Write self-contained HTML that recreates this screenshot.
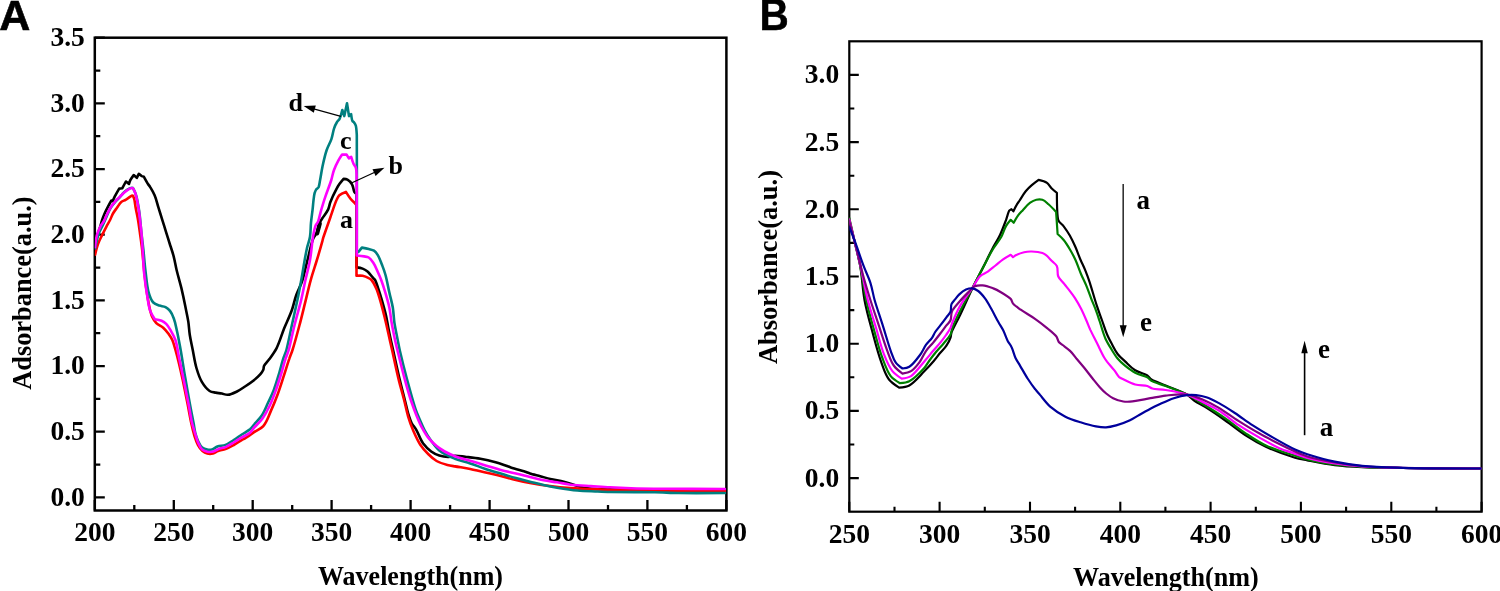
<!DOCTYPE html><html><head><meta charset="utf-8"><style>html,body{margin:0;padding:0;background:#fff;overflow:hidden}svg{display:block;will-change:transform}</style></head><body>
<svg width="1500" height="591" viewBox="0 0 1500 591">
<rect width="1500" height="591" fill="#fff"/>
<defs><clipPath id="clipA"><rect x="94.8" y="37.7" width="631.6" height="472.8"/></clipPath><clipPath id="clipB"><rect x="849.3" y="41.3" width="632.3" height="470.4"/></clipPath></defs>
<path d="M94.8 497.4h10 M94.8 431.7h10 M94.8 366.1h10 M94.8 300.4h10 M94.8 234.7h10 M94.8 169.1h10 M94.8 103.4h10 M94.8 37.7h10 M94.8 464.6h5.5 M94.8 398.9h5.5 M94.8 333.2h5.5 M94.8 267.6h5.5 M94.8 201.9h5.5 M94.8 136.2h5.5 M94.8 70.6h5.5 M94.8 510.5v-10.5 M173.8 510.5v-10.5 M252.7 510.5v-10.5 M331.6 510.5v-10.5 M410.6 510.5v-10.5 M489.6 510.5v-10.5 M568.5 510.5v-10.5 M647.4 510.5v-10.5 M726.4 510.5v-10.5 M134.3 510.5v-5.5 M213.2 510.5v-5.5 M292.2 510.5v-5.5 M371.1 510.5v-5.5 M450.1 510.5v-5.5 M529 510.5v-5.5 M608 510.5v-5.5 M686.9 510.5v-5.5" stroke="#000" stroke-width="2.3" fill="none"/>
<rect x="94.8" y="37.7" width="631.6" height="472.8" stroke="#000" stroke-width="2.5" fill="none"/>
<text x="84.8" y="505.7" text-anchor="end" font-size="27.5" font-family="Liberation Serif, serif" font-weight="bold">0.0</text>
<text x="84.8" y="440" text-anchor="end" font-size="27.5" font-family="Liberation Serif, serif" font-weight="bold">0.5</text>
<text x="84.8" y="374.4" text-anchor="end" font-size="27.5" font-family="Liberation Serif, serif" font-weight="bold">1.0</text>
<text x="84.8" y="308.7" text-anchor="end" font-size="27.5" font-family="Liberation Serif, serif" font-weight="bold">1.5</text>
<text x="84.8" y="243" text-anchor="end" font-size="27.5" font-family="Liberation Serif, serif" font-weight="bold">2.0</text>
<text x="84.8" y="177.4" text-anchor="end" font-size="27.5" font-family="Liberation Serif, serif" font-weight="bold">2.5</text>
<text x="84.8" y="111.7" text-anchor="end" font-size="27.5" font-family="Liberation Serif, serif" font-weight="bold">3.0</text>
<text x="84.8" y="46" text-anchor="end" font-size="27.5" font-family="Liberation Serif, serif" font-weight="bold">3.5</text>
<text x="94.8" y="541.2" text-anchor="middle" font-size="27.5" font-family="Liberation Serif, serif" font-weight="bold">200</text>
<text x="173.8" y="541.2" text-anchor="middle" font-size="27.5" font-family="Liberation Serif, serif" font-weight="bold">250</text>
<text x="252.7" y="541.2" text-anchor="middle" font-size="27.5" font-family="Liberation Serif, serif" font-weight="bold">300</text>
<text x="331.6" y="541.2" text-anchor="middle" font-size="27.5" font-family="Liberation Serif, serif" font-weight="bold">350</text>
<text x="410.6" y="541.2" text-anchor="middle" font-size="27.5" font-family="Liberation Serif, serif" font-weight="bold">400</text>
<text x="489.6" y="541.2" text-anchor="middle" font-size="27.5" font-family="Liberation Serif, serif" font-weight="bold">450</text>
<text x="568.5" y="541.2" text-anchor="middle" font-size="27.5" font-family="Liberation Serif, serif" font-weight="bold">500</text>
<text x="647.4" y="541.2" text-anchor="middle" font-size="27.5" font-family="Liberation Serif, serif" font-weight="bold">550</text>
<text x="726.4" y="541.2" text-anchor="middle" font-size="27.5" font-family="Liberation Serif, serif" font-weight="bold">600</text>
<text x="318" y="584.5" font-size="28" textLength="185" lengthAdjust="spacingAndGlyphs" font-family="Liberation Serif, serif" font-weight="bold">Wavelength(nm)</text>
<text transform="translate(30.6 389.8) rotate(-90)" x="0" y="0" font-size="28" textLength="193.4" lengthAdjust="spacingAndGlyphs" font-family="Liberation Serif, serif" font-weight="bold">Adsorbance(a.u.)</text>
<text x="-0.8" y="30.2" font-size="43" stroke="#000" stroke-width="0.6" font-family="Liberation Sans, sans-serif" font-weight="bold">A</text>
<path d="M849.3 478.1h9.5 M849.3 410.9h9.5 M849.3 343.7h9.5 M849.3 276.5h9.5 M849.3 209.3h9.5 M849.3 142.1h9.5 M849.3 74.9h9.5 M849.3 444.5h5 M849.3 377.3h5 M849.3 310.1h5 M849.3 242.9h5 M849.3 175.7h5 M849.3 108.5h5 M849.3 511.7v-10 M939.6 511.7v-10 M1030 511.7v-10 M1120.3 511.7v-10 M1210.6 511.7v-10 M1300.9 511.7v-10 M1391.3 511.7v-10 M1481.6 511.7v-10 M894.5 511.7v-5 M984.8 511.7v-5 M1075.1 511.7v-5 M1165.4 511.7v-5 M1255.8 511.7v-5 M1346.1 511.7v-5 M1436.4 511.7v-5" stroke="#000" stroke-width="2.1" fill="none"/>
<rect x="849.3" y="41.3" width="632.3" height="470.4" stroke="#000" stroke-width="2.2" fill="none"/>
<text x="839.2" y="486.5" text-anchor="end" font-size="27.5" font-family="Liberation Serif, serif" font-weight="bold">0.0</text>
<text x="839.2" y="419.3" text-anchor="end" font-size="27.5" font-family="Liberation Serif, serif" font-weight="bold">0.5</text>
<text x="839.2" y="352.1" text-anchor="end" font-size="27.5" font-family="Liberation Serif, serif" font-weight="bold">1.0</text>
<text x="839.2" y="284.9" text-anchor="end" font-size="27.5" font-family="Liberation Serif, serif" font-weight="bold">1.5</text>
<text x="839.2" y="217.7" text-anchor="end" font-size="27.5" font-family="Liberation Serif, serif" font-weight="bold">2.0</text>
<text x="839.2" y="150.5" text-anchor="end" font-size="27.5" font-family="Liberation Serif, serif" font-weight="bold">2.5</text>
<text x="839.2" y="83.3" text-anchor="end" font-size="27.5" font-family="Liberation Serif, serif" font-weight="bold">3.0</text>
<text x="849.3" y="543" text-anchor="middle" font-size="27.5" font-family="Liberation Serif, serif" font-weight="bold">250</text>
<text x="939.6" y="543" text-anchor="middle" font-size="27.5" font-family="Liberation Serif, serif" font-weight="bold">300</text>
<text x="1030" y="543" text-anchor="middle" font-size="27.5" font-family="Liberation Serif, serif" font-weight="bold">350</text>
<text x="1120.3" y="543" text-anchor="middle" font-size="27.5" font-family="Liberation Serif, serif" font-weight="bold">400</text>
<text x="1210.6" y="543" text-anchor="middle" font-size="27.5" font-family="Liberation Serif, serif" font-weight="bold">450</text>
<text x="1300.9" y="543" text-anchor="middle" font-size="27.5" font-family="Liberation Serif, serif" font-weight="bold">500</text>
<text x="1391.3" y="543" text-anchor="middle" font-size="27.5" font-family="Liberation Serif, serif" font-weight="bold">550</text>
<text x="1481.6" y="543" text-anchor="middle" font-size="27.5" font-family="Liberation Serif, serif" font-weight="bold">600</text>
<text x="1073" y="585.7" font-size="28" textLength="185.6" lengthAdjust="spacingAndGlyphs" font-family="Liberation Serif, serif" font-weight="bold">Wavelength(nm)</text>
<text transform="translate(777 364) rotate(-90)" x="0" y="0" font-size="28" textLength="194" lengthAdjust="spacingAndGlyphs" font-family="Liberation Serif, serif" font-weight="bold">Absorbance(a.u.)</text>
<text transform="translate(759.6 29.6) scale(0.9 1)" font-size="45" stroke="#000" stroke-width="0.5" font-family="Liberation Sans, sans-serif" font-weight="bold">B</text>
<g clip-path="url(#clipA)">
<path fill="none" stroke="#000000" stroke-width="2.6" stroke-linejoin="round" stroke-linecap="round" d="M95.2 245.0C95.2 245.0 96.2 239.3 97.0 236.5C97.7 234.0 98.7 231.5 99.5 229.0C100.4 226.2 101.1 223.3 102.0 220.5C102.7 218.3 103.5 216.1 104.4 214.0C105.5 211.5 106.7 209.0 108.0 206.6C109.1 204.5 111.4 200.5 111.4 200.5C111.4 200.5 112.7 201.2 112.7 201.2C112.7 201.2 114.0 198.0 114.8 196.4C116.0 194.1 119.2 188.6 119.2 188.6C119.2 188.6 122.2 188.3 122.2 188.3C122.2 188.3 125.9 181.5 125.9 181.5C125.9 181.5 129.0 183.9 129.0 183.9C129.0 183.9 129.7 181.4 130.3 180.2C131.2 178.4 133.7 175.1 133.7 175.1C133.7 175.1 136.8 177.8 136.8 177.8C136.8 177.8 138.8 173.8 138.8 173.8C138.8 173.8 140.8 175.6 141.8 176.1C142.5 176.4 143.9 176.8 143.9 176.8C143.9 176.8 147.1 182.6 148.0 184.0C148.6 185.0 149.4 185.8 150.0 186.8C150.9 188.3 153.4 192.3 154.6 195.2C156.3 199.1 157.1 203.3 158.4 207.4C159.7 211.5 160.9 215.5 162.2 219.6C163.5 223.7 164.7 227.7 166.0 231.8C167.3 235.9 168.5 239.9 169.8 244.0C171.1 248.0 172.5 252.0 173.6 256.1C174.8 260.7 175.5 265.4 176.6 270.0C178.1 276.1 179.9 282.0 181.4 288.1C182.8 294.1 184.1 300.2 185.3 306.3C186.3 311.4 187.5 316.5 188.3 321.6C189.0 326.0 189.1 330.6 189.8 335.0C190.6 340.1 191.8 345.1 192.8 350.2C194.0 356.3 194.8 362.5 196.6 368.5C198.0 373.2 199.5 378.0 202.0 382.2C204.0 385.5 206.9 389.3 209.6 391.0C211.4 392.1 213.6 392.2 215.7 392.6C217.7 393.0 219.8 393.2 221.8 393.6C223.8 394.0 225.8 395.0 227.9 394.8C231.0 394.6 234.1 392.9 237.0 391.5C239.8 390.1 242.4 388.2 245.0 386.5C247.6 384.8 250.2 383.1 252.6 381.2C255.3 379.1 258.4 376.5 260.2 374.4C261.4 373.0 262.6 371.5 263.3 369.8C263.8 368.6 263.5 367.2 264.0 366.0C264.8 364.2 267.7 361.5 269.4 359.1C271.9 355.6 274.5 352.1 276.5 348.3C279.4 342.6 281.5 335.1 284.1 328.5C286.6 322.4 289.6 316.5 291.8 310.3C293.6 305.3 294.5 300.0 296.3 295.0C297.9 290.4 300.4 286.1 302.0 281.5C303.4 277.4 304.2 273.2 305.3 269.0C306.4 264.7 307.4 260.3 308.5 256.0C309.3 252.7 310.0 249.3 310.9 246.0C311.6 243.5 312.2 240.9 313.3 238.5C314.2 236.6 315.7 235.0 316.5 233.0C317.7 230.1 317.9 226.3 319.1 223.6C319.9 221.8 321.1 220.2 322.2 218.5C323.8 216.0 326.7 212.7 328.2 209.4C329.2 207.2 329.4 204.6 330.3 202.3C331.6 198.8 335.0 191.7 336.4 189.1C337.3 187.4 338.3 185.7 339.4 184.1C340.7 182.3 343.6 178.9 343.6 178.9C343.6 178.9 346.3 179.1 347.4 179.7C349.1 180.6 350.9 182.4 352.0 184.3C353.4 186.6 353.5 190.6 354.3 191.9C354.8 192.8 356.5 194.0 356.5 194.0C356.5 194.0 356.6 267.4 356.6 267.4C356.6 267.4 360.7 267.9 362.6 268.6C364.3 269.2 365.8 270.1 367.2 271.2C369.3 272.9 372.4 277.1 373.3 278.1C373.9 278.7 374.6 279.3 375.1 280.0C375.8 281.1 377.2 285.4 378.1 288.1C379.5 292.2 380.8 296.3 382.0 300.5C383.4 305.5 384.9 310.5 386.0 315.5C387.0 319.9 387.6 324.3 388.5 328.7C389.2 332.5 390.0 336.2 390.8 340.0C391.6 343.5 392.4 347.0 393.2 350.5C394.4 355.8 397.7 371.3 400.0 380.9C401.5 387.3 403.2 393.6 404.8 400.0C406.1 405.0 407.3 410.9 408.6 415.0C409.5 417.7 410.3 420.5 411.6 423.0C412.9 425.4 414.9 427.4 416.3 429.8C418.4 433.4 420.1 439.2 423.0 443.3C425.3 446.4 428.1 449.2 431.2 451.5C433.6 453.3 436.4 454.6 439.3 455.5C442.4 456.5 445.6 457.0 448.8 456.9C450.9 456.9 452.9 455.8 455.0 455.7C458.2 455.6 461.8 456.4 465.2 456.8C470.3 457.4 475.4 457.9 480.4 458.8C485.5 459.7 490.6 460.9 495.6 462.3C500.7 463.8 505.7 465.8 510.8 467.4C515.9 469.0 524.1 471.3 526.1 472.0C527.4 472.5 528.7 473.1 530.0 473.5C532.0 474.1 536.8 475.3 540.2 476.2C543.6 477.1 546.9 478.2 550.3 479.0C554.8 480.1 559.3 480.6 563.8 481.7C570.5 483.4 577.2 486.5 584.1 487.7C592.6 489.2 601.4 489.0 610.0 489.4C623.0 490.0 643.3 490.3 660.0 490.5C681.7 490.8 725.0 490.8 725.0 490.8"/>
<line x1="320" y1="223.5" x2="317.3" y2="233.6" stroke="#000" stroke-width="3.8" stroke-linecap="round"/>
<path fill="none" stroke="#ff0000" stroke-width="2.6" stroke-linejoin="round" stroke-linecap="round" d="M95.1 254.6C95.1 254.6 96.8 247.2 98.1 243.7C99.2 240.7 100.8 237.8 102.2 234.9C103.5 232.2 104.9 229.5 106.3 226.8C107.6 224.3 109.1 222.0 110.3 219.5C111.3 217.5 111.9 215.4 113.0 213.5C114.1 211.6 115.5 209.8 116.8 208.0C118.3 205.9 119.7 203.2 121.5 201.8C122.7 200.8 124.3 200.6 125.6 199.8C127.6 198.7 131.1 195.9 131.7 195.7C132.1 195.6 133.0 195.7 133.0 195.7C133.0 195.7 134.1 198.4 134.4 199.8C134.9 201.9 135.2 205.3 135.7 208.0C136.3 211.3 137.1 214.7 137.7 218.0C138.6 223.0 139.3 228.3 140.0 233.5C140.8 239.0 141.6 244.5 142.2 250.0C142.6 254.0 142.9 258.0 143.3 262.0C143.7 265.7 144.0 269.3 144.4 273.0C145.0 278.5 146.2 288.5 147.4 296.0C148.2 301.0 149.6 308.2 150.3 311.0C150.8 312.9 151.2 314.8 152.0 316.5C153.1 318.9 154.5 321.2 156.3 323.1C158.2 325.1 161.1 325.9 163.2 327.7C165.2 329.5 166.9 331.6 168.5 333.8C169.9 335.8 171.3 337.8 172.3 340.0C173.8 343.3 176.0 351.8 177.6 357.8C179.6 365.4 181.2 373.0 182.9 380.7C184.5 388.3 186.0 395.9 187.5 403.5C188.8 410.1 189.9 416.9 191.3 423.3C192.2 427.6 193.2 431.8 194.5 436.0C195.5 439.1 196.4 442.2 198.0 445.0C199.2 447.2 200.6 449.4 202.5 451.0C203.9 452.2 205.5 453.1 207.3 453.5C209.1 454.0 211.2 453.9 213.0 453.5C214.8 453.1 216.3 451.6 218.0 451.0C220.4 450.1 223.1 450.0 225.5 449.1C228.4 448.0 231.0 446.5 233.7 445.0C236.5 443.5 240.2 440.9 241.8 440.0C242.8 439.4 244.0 438.9 245.0 438.3C246.6 437.4 251.1 434.2 254.1 432.2C257.2 430.2 260.9 428.9 263.3 426.1C267.0 422.0 268.6 416.1 270.9 410.9C273.4 405.4 275.6 399.8 277.7 394.2C279.9 388.2 281.8 382.0 283.8 375.9C285.6 370.3 287.6 363.7 289.2 359.1C290.2 356.0 291.5 353.1 292.5 350.0C294.0 345.4 297.2 333.7 299.4 325.5C301.6 317.4 303.5 309.2 305.5 301.1C307.3 294.0 308.8 286.8 310.8 279.8C312.7 273.1 314.9 266.6 316.9 260.0C318.7 254.1 321.5 244.4 322.1 242.2C322.5 240.7 322.8 239.2 323.2 237.8C323.9 235.6 327.9 224.3 330.3 217.5C332.3 211.8 335.1 203.0 336.4 200.3C337.2 198.5 338.0 196.6 339.4 195.2C341.2 193.5 345.9 191.9 345.9 191.9C345.9 191.9 348.8 196.6 350.5 198.7C351.9 200.4 354.2 202.5 355.0 203.3C355.5 203.9 356.5 205.0 356.5 205.0C356.5 205.0 356.5 275.8 356.5 275.8C356.5 275.8 360.6 275.4 362.6 275.8C364.7 276.2 367.2 277.3 368.7 278.1C369.7 278.6 370.7 279.2 371.5 280.0C372.6 281.2 374.8 285.3 376.1 288.1C377.9 292.0 379.0 296.2 380.2 300.3C381.7 305.3 382.9 310.4 384.2 315.5C385.3 319.9 386.3 324.3 387.3 328.7C388.2 332.5 389.0 336.2 389.8 340.0C390.6 343.5 391.4 347.0 392.2 350.5C393.4 355.8 396.6 371.3 399.0 380.9C400.6 387.3 402.5 393.6 404.1 400.0C405.5 405.4 406.5 410.9 408.1 416.3C409.6 421.4 411.4 426.3 413.5 431.2C415.5 435.8 417.5 440.5 420.3 444.7C422.6 448.2 425.4 451.3 428.4 454.2C430.9 456.7 433.5 459.2 436.6 461.0C439.9 462.9 443.7 464.0 447.4 465.0C449.9 465.7 452.5 466.0 455.0 466.4C458.8 467.1 465.2 467.9 470.2 468.9C475.3 469.9 480.4 471.3 485.5 472.5C490.6 473.7 495.7 474.7 500.7 476.0C505.8 477.3 510.8 478.9 515.9 480.1C520.6 481.2 525.3 482.2 530.0 483.0C536.6 484.2 543.3 485.2 550.0 486.0C556.8 486.9 563.7 487.6 570.6 488.1C579.6 488.8 591.6 489.2 597.7 489.4C601.8 489.6 605.9 489.7 610.0 489.8C616.2 489.9 643.3 490.4 660.0 490.6C681.7 490.8 725.0 491.0 725.0 491.0"/>
<path fill="none" stroke="#008080" stroke-width="2.6" stroke-linejoin="round" stroke-linecap="round" d="M95.1 248.5C95.1 248.5 97.2 237.9 98.8 233.5C99.9 230.5 101.6 227.9 102.9 225.0C104.0 222.7 104.9 220.3 106.0 218.0C107.5 214.6 108.9 210.7 110.7 207.8C111.9 205.8 113.3 204.0 114.8 202.3C116.2 200.6 118.0 199.2 119.5 197.6C120.7 196.3 121.7 194.8 122.9 193.5C124.2 192.2 125.4 190.8 127.0 189.8C128.4 188.9 131.0 187.9 131.7 187.8C132.1 187.7 133.0 188.0 133.0 188.0C133.0 188.0 134.5 190.9 135.1 192.4C135.7 193.9 136.2 195.5 136.6 197.1C137.2 199.5 138.1 204.3 138.7 208.0C139.2 211.0 139.6 214.0 139.9 217.0C140.4 221.5 140.9 228.0 141.5 233.5C142.1 239.0 142.8 244.5 143.4 250.0C144.2 257.6 144.7 265.2 145.7 272.8C146.5 279.4 147.1 287.4 148.7 292.6C149.7 296.1 150.9 300.0 153.3 302.5C154.9 304.1 157.3 304.8 159.4 305.6C161.4 306.3 163.6 306.1 165.5 307.1C167.2 308.0 168.8 309.4 170.0 310.9C171.8 313.1 172.8 315.8 173.8 318.5C175.3 322.4 176.0 326.6 176.9 330.7C178.3 336.8 179.5 343.7 180.7 350.2C182.3 359.3 183.6 368.5 185.2 377.6C186.7 386.2 188.2 394.9 189.8 403.5C191.0 410.1 192.7 418.5 193.6 423.3C194.2 426.5 194.5 429.8 195.3 433.0C196.0 435.7 196.9 438.5 198.1 441.0C199.2 443.3 200.2 445.9 202.2 447.5C203.6 448.7 205.5 449.3 207.3 449.6C208.8 449.9 210.5 449.9 212.0 449.5C214.0 449.0 215.5 447.2 217.4 446.5C220.0 445.6 222.9 445.9 225.5 444.9C228.5 443.8 231.0 441.7 233.7 440.0C236.5 438.2 239.1 436.3 241.8 434.5C244.5 432.7 247.6 431.3 250.0 429.3C251.6 427.9 252.7 426.2 254.1 424.6C256.1 422.2 259.6 418.8 261.8 415.5C264.3 411.7 265.9 407.4 267.8 403.3C269.9 398.8 272.1 394.3 273.9 389.6C276.0 384.1 277.6 378.4 279.3 372.8C280.7 368.3 281.7 363.6 283.1 359.1C284.1 356.0 285.5 353.1 286.4 350.0C287.7 345.4 290.0 333.7 291.8 325.5C293.8 316.4 295.9 307.3 297.8 298.1C299.2 291.5 300.4 284.9 301.6 278.3C302.7 272.2 303.6 266.0 304.7 260.0C305.4 256.0 306.1 252.0 307.0 248.0C307.9 244.2 309.4 240.6 310.0 236.8C310.8 232.1 310.5 227.3 311.0 222.6C311.4 218.5 312.0 214.5 312.5 210.4C312.9 207.0 313.1 203.7 313.5 200.3C313.8 197.9 314.1 195.1 314.6 193.2C315.0 191.9 315.4 190.7 316.1 189.6C316.8 188.6 318.0 188.1 318.6 187.1C319.4 185.5 319.6 182.4 320.1 180.0C320.8 176.4 321.5 171.3 322.4 167.0C323.6 161.3 324.8 155.5 326.7 150.0C328.0 146.3 330.1 142.8 331.4 139.1C332.6 135.6 333.0 131.5 334.1 128.3C334.8 126.2 335.8 124.0 336.9 122.2C337.7 121.0 338.9 120.1 339.6 118.8C340.6 116.9 342.3 110.0 342.3 110.0C342.3 110.0 344.3 116.1 344.3 116.1C344.3 116.1 347.0 103.3 347.0 103.3C347.0 103.3 349.0 116.1 349.0 116.1C349.0 116.1 351.1 114.1 351.1 114.1C351.1 114.1 351.9 120.1 352.4 120.9C352.7 121.5 353.4 121.7 353.8 122.2C354.4 122.9 355.4 124.4 355.8 125.6C356.4 127.5 356.6 131.9 356.8 135.0C357.1 139.7 356.8 252.5 356.8 252.5C356.8 252.5 357.6 252.4 358.0 252.2C358.5 251.9 361.9 247.6 361.9 247.6C361.9 247.6 366.5 248.5 368.7 249.1C370.5 249.6 372.5 249.7 374.0 250.7C375.6 251.8 376.8 253.5 377.8 255.2C379.3 257.7 381.0 262.3 382.4 265.9C383.6 268.9 384.6 271.9 385.5 275.0C386.8 279.6 388.0 286.5 389.3 292.2C390.4 297.3 391.9 302.3 392.8 307.4C393.6 312.4 393.7 317.6 394.4 322.6C395.3 328.4 396.7 334.7 397.7 340.0C398.4 343.5 399.0 347.0 399.8 350.5C401.0 355.7 404.2 368.8 406.6 377.9C409.5 388.7 414.2 405.4 415.8 410.0C416.9 413.1 418.2 416.0 419.5 419.0C421.1 422.7 422.6 426.4 424.5 430.0C426.4 433.6 428.6 437.2 431.0 440.5C433.5 444.0 435.9 447.8 439.3 450.5C443.9 454.2 449.5 456.5 455.0 458.8C459.9 460.8 465.2 461.7 470.2 463.4C475.3 465.1 480.4 467.2 485.5 468.9C490.5 470.6 495.6 472.0 500.7 473.5C505.8 475.0 510.8 476.7 515.9 478.1C520.6 479.4 525.3 480.5 530.0 481.7C534.5 482.8 539.0 484.0 543.5 485.0C548.0 486.0 552.5 486.9 557.1 487.7C563.8 488.8 570.6 489.9 577.4 490.5C584.1 491.1 591.6 491.2 597.7 491.5C601.8 491.7 605.9 491.9 610.0 492.0C616.2 492.1 642.9 492.1 654.8 492.3C662.7 492.4 670.6 492.9 678.5 493.0C690.4 493.2 725.0 493.0 725.0 493.0"/>
<path fill="none" stroke="#ff00ff" stroke-width="2.6" stroke-linejoin="round" stroke-linecap="round" d="M95.1 247.1C95.1 247.1 95.8 239.3 96.8 235.6C97.6 232.6 98.8 229.6 100.2 226.8C101.1 224.9 102.6 223.3 103.6 221.5C104.5 219.9 105.2 218.2 106.0 216.5C107.2 214.0 108.9 210.2 110.7 207.3C111.9 205.4 113.3 203.5 114.8 201.8C116.2 200.1 117.9 198.7 119.5 197.1C120.6 196.0 121.7 194.8 122.9 193.7C124.2 192.5 125.5 191.3 127.0 190.3C128.5 189.4 131.0 188.1 131.7 188.0C132.1 187.9 133.0 188.3 133.0 188.3C133.0 188.3 134.5 191.0 135.1 192.4C135.7 193.9 136.0 195.5 136.4 197.1C137.0 199.5 137.9 204.3 138.5 208.0C139.0 211.0 139.3 214.0 139.7 217.0C140.2 221.5 141.0 228.0 141.5 233.5C142.1 240.7 142.5 247.8 143.0 255.0C143.4 260.9 143.5 266.9 144.1 272.8C144.9 280.5 145.9 288.1 147.2 295.7C148.0 300.8 148.6 306.4 150.2 310.9C151.3 313.9 154.8 319.3 154.8 319.3C154.8 319.3 159.5 319.9 161.6 320.8C163.3 321.5 164.9 322.6 166.2 323.9C168.1 325.8 169.4 328.3 170.8 330.7C172.5 333.7 174.3 336.7 175.4 340.0C177.1 344.9 177.9 351.9 179.1 357.8C180.9 366.4 182.7 375.1 184.5 383.7C186.0 391.3 187.5 399.0 189.0 406.6C190.1 412.2 190.9 418.2 192.1 423.3C192.9 426.7 194.1 430.0 195.1 433.4C196.1 436.4 196.8 439.6 198.1 442.5C199.2 445.0 200.2 447.8 202.2 449.6C203.6 450.8 205.5 451.5 207.3 451.8C209.3 452.2 211.4 452.1 213.4 451.6C215.2 451.1 216.7 449.8 218.4 449.1C220.7 448.2 223.2 448.0 225.5 447.1C228.4 445.9 231.0 444.1 233.7 442.5C236.4 440.9 239.1 439.0 241.8 437.4C244.5 435.8 247.6 434.8 250.0 432.8C251.7 431.4 252.7 429.4 254.1 427.7C256.2 425.2 260.1 421.9 262.5 418.5C265.2 414.7 267.4 410.5 269.4 406.3C271.8 401.4 273.6 396.2 275.5 391.1C277.7 385.1 279.6 378.9 281.5 372.8C282.9 368.3 283.9 363.6 285.4 359.1C286.4 356.0 287.8 353.1 288.7 350.0C290.1 345.4 292.6 332.6 294.8 324.0C296.7 316.3 299.0 308.8 300.9 301.1C302.6 294.0 303.9 286.9 305.5 279.8C307.0 273.2 308.8 266.7 310.0 260.0C311.4 252.3 312.0 242.5 313.0 236.8C313.7 233.0 314.7 227.8 315.6 225.6C316.2 224.1 317.5 223.0 318.1 221.6C319.0 219.4 320.0 214.1 321.1 210.4C322.4 206.0 323.7 201.6 325.2 197.2C327.1 191.4 329.8 184.9 331.3 180.0C332.3 176.7 332.8 173.2 334.0 170.0C335.2 166.8 336.7 163.7 338.3 160.7C339.4 158.6 342.1 154.6 342.1 154.6C342.1 154.6 346.6 154.6 346.6 154.6C346.6 154.6 348.9 158.4 348.9 158.4C348.9 158.4 351.2 156.9 351.2 156.9C351.2 156.9 352.6 161.7 353.5 163.7C354.1 165.0 355.3 166.1 355.8 167.5C356.5 169.6 356.5 172.5 356.6 175.0C356.8 178.8 356.8 255.5 356.8 255.5C356.8 255.5 361.8 256.0 364.1 256.4C365.7 256.7 367.4 256.7 368.7 257.5C370.7 258.7 372.0 260.8 373.3 262.8C375.2 265.6 376.4 268.9 377.8 272.0C379.0 274.6 380.2 277.3 381.2 280.0C382.7 284.0 384.0 288.1 385.2 292.2C386.7 297.2 388.2 302.3 389.3 307.4C390.4 312.4 390.7 317.6 391.6 322.6C392.6 328.4 393.9 334.7 395.0 340.0C395.8 343.5 396.6 347.0 397.5 350.5C398.8 355.7 401.9 368.8 404.4 377.9C406.4 385.3 408.4 392.7 410.8 400.0C412.5 405.0 414.3 410.0 416.3 414.9C418.0 419.0 419.6 423.2 421.7 427.1C423.7 430.8 425.8 434.6 428.4 437.9C430.8 440.9 433.6 443.6 436.6 446.1C439.1 448.2 441.9 449.9 444.7 451.5C448.0 453.3 451.5 454.9 455.0 456.2C460.0 458.1 465.1 459.3 470.2 460.8C475.3 462.3 480.4 463.9 485.5 465.4C490.6 466.9 495.6 468.6 500.7 470.0C505.7 471.3 510.8 472.3 515.9 473.5C520.6 474.6 525.3 475.7 530.0 476.9C534.5 478.0 538.9 479.4 543.5 480.3C548.0 481.2 552.6 481.6 557.1 482.3C561.6 483.0 566.1 484.1 570.6 484.7C577.3 485.5 584.1 485.7 590.9 486.1C597.3 486.5 603.6 487.0 610.0 487.3C617.0 487.7 624.1 488.0 631.1 488.2C641.7 488.5 654.8 488.6 666.6 488.7C684.4 488.9 725.0 489.0 725.0 489.0"/>
</g>
<g clip-path="url(#clipB)">
<path fill="none" stroke="#000000" stroke-width="2.2" stroke-linejoin="round" stroke-linecap="round" d="M849.3 219.5C849.3 219.5 853.3 235.8 855.2 243.9C856.9 251.2 858.9 258.5 860.2 265.9C862.2 277.0 862.4 288.7 864.5 300.0C866.6 311.4 869.9 322.6 872.9 333.8C875.5 343.5 878.2 353.9 881.4 362.6C883.5 368.4 885.2 374.6 889.0 379.5C891.6 382.9 899.1 387.6 899.1 387.6C899.1 387.6 906.2 387.0 909.3 385.4C913.9 383.0 919.6 376.1 924.5 371.1C927.9 367.7 931.1 364.1 934.2 360.5C936.3 358.0 938.2 355.3 940.3 352.8C942.3 350.4 944.7 348.3 946.4 345.7C948.1 343.2 949.7 340.1 950.5 337.6C951.1 336.0 950.9 334.1 951.5 332.5C952.3 330.0 957.2 321.0 960.0 315.2C964.2 306.5 968.2 297.0 972.6 288.0C976.0 280.9 979.8 274.0 983.3 267.0C986.4 260.9 989.2 254.7 992.4 248.7C994.8 244.1 997.8 239.7 1000.0 235.0C1002.3 230.1 1004.4 224.3 1006.1 219.8C1007.2 216.8 1008.4 211.8 1009.2 210.7C1009.7 210.0 1011.4 209.1 1011.4 209.1C1011.4 209.1 1013.4 211.4 1013.4 211.4C1013.4 211.4 1015.5 206.7 1016.8 204.6C1017.6 203.2 1018.7 201.9 1019.6 200.5C1021.0 198.4 1023.4 194.1 1025.7 191.3C1027.5 189.1 1029.6 187.1 1031.8 185.2C1034.0 183.3 1038.6 179.9 1038.6 179.9C1038.6 179.9 1044.6 181.2 1047.0 182.9C1048.9 184.2 1049.8 186.6 1051.5 188.3C1053.2 190.0 1056.9 192.8 1056.9 192.8C1056.9 192.8 1056.9 216.6 1058.4 220.3C1059.4 222.8 1062.1 224.2 1063.7 226.3C1065.9 229.2 1068.0 232.3 1069.8 235.5C1071.7 238.9 1073.4 242.4 1075.0 246.0C1077.1 250.6 1078.6 255.4 1080.6 260.0C1082.1 263.4 1083.8 266.8 1085.2 270.2C1086.8 274.2 1088.3 278.2 1089.7 282.3C1090.8 285.7 1091.8 289.1 1092.8 292.5C1094.1 296.9 1095.4 301.3 1096.8 305.7C1098.4 310.5 1100.2 315.2 1101.9 320.0C1103.6 324.7 1105.0 329.6 1107.0 334.2C1108.3 337.3 1109.9 340.3 1111.5 343.3C1113.4 346.9 1115.1 350.7 1117.6 354.0C1119.8 356.9 1122.7 359.1 1125.3 361.6C1128.5 364.6 1131.5 367.9 1135.2 370.2C1138.9 372.5 1144.9 373.7 1147.3 375.3C1148.9 376.4 1149.8 378.3 1151.4 379.4C1153.8 381.0 1160.9 383.5 1165.6 385.5C1172.7 388.5 1183.0 392.1 1187.0 394.6C1189.7 396.2 1191.5 398.9 1194.1 400.7C1197.5 403.1 1201.4 404.7 1205.0 406.9C1210.3 410.2 1218.6 415.8 1225.3 420.5C1232.2 425.3 1238.6 430.8 1245.6 435.3C1252.1 439.5 1258.9 443.5 1265.9 446.8C1275.3 451.2 1289.0 455.9 1295.0 457.7C1299.0 458.9 1303.2 459.5 1307.3 460.3C1313.5 461.5 1325.5 464.0 1334.7 465.1C1343.8 466.2 1352.9 466.7 1362.0 467.1C1375.7 467.7 1389.3 467.8 1403.0 468.0C1423.5 468.3 1481.0 468.5 1481.0 468.5"/>
<path fill="none" stroke="#008000" stroke-width="2.2" stroke-linejoin="round" stroke-linecap="round" d="M849.3 218.0C849.3 218.0 853.2 235.3 855.2 243.9C856.9 251.2 858.7 258.5 860.2 265.9C862.4 277.0 863.7 288.7 866.2 300.0C868.6 310.8 871.6 321.5 874.6 332.1C877.0 340.6 879.1 349.2 882.2 357.5C884.6 363.9 887.1 371.5 890.7 376.1C893.1 379.1 900.0 383.2 900.0 383.2C900.0 383.2 906.5 382.6 909.3 381.2C913.5 379.1 921.8 370.7 924.5 367.7C926.3 365.7 927.5 363.2 929.1 361.0C931.4 357.9 933.7 354.8 936.2 351.8C938.5 349.0 941.1 346.5 943.4 343.7C945.9 340.7 948.8 337.8 950.5 334.5C951.6 332.3 951.6 329.7 952.5 327.4C953.8 323.9 957.3 316.5 960.0 311.2C964.0 303.2 968.4 295.5 972.6 287.6C976.2 280.8 979.7 273.8 983.3 267.0C986.5 260.9 989.6 254.6 993.2 248.7C995.8 244.5 999.1 240.8 1001.5 236.5C1003.4 233.1 1004.2 229.2 1006.1 225.9C1007.4 223.7 1010.7 219.8 1010.7 219.8C1010.7 219.8 1013.7 222.8 1013.7 222.8C1013.7 222.8 1016.5 217.6 1018.3 215.2C1019.6 213.5 1021.1 212.0 1022.6 210.4C1024.8 208.1 1027.4 204.7 1030.2 202.7C1032.0 201.4 1034.1 200.2 1036.3 199.7C1038.3 199.2 1040.5 199.1 1042.4 199.7C1044.8 200.5 1046.6 202.6 1048.5 204.3C1051.2 206.7 1056.1 211.9 1056.1 211.9C1056.1 211.9 1057.6 234.0 1057.6 234.0C1057.6 234.0 1061.9 237.8 1063.7 240.0C1066.0 242.8 1067.9 246.0 1069.8 249.2C1071.9 252.7 1073.8 256.3 1075.5 260.0C1077.6 264.6 1079.1 269.5 1081.1 274.2C1082.7 278.0 1084.6 281.6 1086.2 285.4C1088.0 289.7 1089.5 294.2 1091.2 298.6C1092.5 302.0 1094.0 305.3 1095.3 308.7C1096.8 312.6 1098.1 316.6 1099.4 320.5C1101.4 326.4 1103.0 333.1 1105.5 338.7C1107.2 342.4 1109.4 345.9 1111.5 349.4C1113.4 352.5 1115.3 355.7 1117.6 358.5C1119.8 361.1 1122.3 363.5 1125.0 365.7C1128.2 368.3 1131.5 370.9 1135.2 372.8C1139.0 374.8 1145.0 375.9 1147.3 377.3C1148.9 378.2 1149.8 380.0 1151.4 380.9C1153.8 382.3 1160.9 384.2 1165.6 386.0C1172.7 388.7 1180.1 391.2 1187.0 394.6C1193.0 397.6 1198.5 401.3 1204.2 404.8C1211.3 409.2 1218.4 413.7 1225.3 418.4C1232.2 423.2 1238.6 428.6 1245.6 433.3C1252.2 437.7 1258.7 442.2 1265.9 445.5C1275.2 449.9 1288.9 453.6 1295.0 455.6C1299.1 457.0 1303.1 458.5 1307.3 459.5C1313.6 461.1 1325.5 463.3 1334.7 464.5C1343.8 465.7 1352.9 466.3 1362.0 466.8C1375.7 467.6 1389.3 467.8 1403.0 468.0C1423.5 468.4 1481.0 468.5 1481.0 468.5"/>
<path fill="none" stroke="#ff00ff" stroke-width="2.2" stroke-linejoin="round" stroke-linecap="round" d="M849.3 219.4C849.3 219.4 853.2 235.7 855.2 243.9C857.0 251.3 858.8 258.6 860.5 266.0C863.0 277.1 864.9 288.8 867.8 300.0C870.3 309.7 873.4 319.2 876.3 328.8C878.8 337.2 880.7 345.9 883.9 354.1C886.2 360.0 888.6 366.4 892.4 371.1C894.9 374.2 901.7 378.7 901.7 378.7C901.7 378.7 908.3 377.8 911.0 376.1C915.1 373.6 921.0 365.3 925.1 360.5C927.9 357.3 930.5 354.0 933.2 350.8C935.5 348.0 938.0 345.4 940.3 342.6C942.4 340.0 944.5 337.3 946.4 334.5C947.9 332.4 949.5 330.0 950.5 327.9C951.2 326.5 951.4 324.9 952.0 323.4C952.9 321.2 956.9 311.6 960.0 306.1C963.7 299.6 968.8 293.3 972.6 287.6C975.2 283.8 977.0 279.1 980.2 276.1C982.3 274.1 985.4 273.3 987.8 271.6C990.5 269.7 992.9 267.5 995.5 265.5C998.0 263.5 1000.4 261.3 1003.1 259.4C1005.5 257.7 1010.7 254.8 1010.7 254.8C1010.7 254.8 1013.0 257.1 1013.0 257.1C1013.0 257.1 1015.5 255.4 1016.8 254.8C1018.8 253.8 1021.6 252.8 1024.1 252.2C1026.6 251.6 1029.2 251.4 1031.8 251.5C1035.4 251.6 1040.4 252.3 1042.4 253.0C1043.8 253.5 1045.0 254.3 1046.1 255.2C1047.8 256.5 1050.2 259.3 1052.2 261.3C1053.7 262.8 1055.8 264.0 1056.8 265.9C1058.3 268.8 1056.9 273.2 1058.3 276.5C1059.6 279.5 1062.4 281.6 1064.4 284.2C1066.4 286.7 1068.5 289.2 1070.5 291.8C1072.1 293.9 1073.6 295.9 1075.0 298.1C1077.1 301.4 1079.2 305.1 1081.1 308.7C1083.0 312.4 1084.6 316.2 1086.2 320.0C1087.6 323.2 1088.8 326.4 1090.2 329.6C1092.4 334.3 1095.3 339.7 1097.8 344.8C1099.8 348.9 1102.5 354.6 1103.9 357.0C1104.8 358.6 1105.9 360.1 1107.0 361.6C1108.7 363.8 1112.2 367.6 1114.6 370.7C1116.2 372.8 1117.3 375.4 1119.2 377.1C1120.5 378.2 1122.2 378.8 1123.7 379.5C1126.0 380.6 1131.2 383.4 1135.2 384.5C1139.1 385.6 1144.6 385.2 1147.3 386.0C1149.1 386.5 1150.6 388.0 1152.4 388.5C1155.1 389.3 1161.2 389.3 1165.6 390.0C1172.2 391.1 1180.1 392.3 1187.0 394.6C1193.0 396.6 1198.5 399.9 1204.2 402.7C1209.0 405.1 1213.9 407.4 1218.5 410.3C1225.4 414.6 1231.8 420.5 1238.8 425.2C1245.4 429.6 1252.2 433.5 1259.1 437.4C1265.8 441.2 1272.4 445.1 1279.4 448.2C1284.4 450.4 1289.8 451.8 1295.0 453.6C1299.1 455.0 1303.1 456.8 1307.3 458.0C1313.6 459.7 1325.5 462.1 1334.7 463.5C1343.7 464.9 1352.9 465.8 1362.0 466.5C1375.6 467.5 1389.3 467.7 1403.0 468.0C1423.5 468.4 1481.0 468.5 1481.0 468.5"/>
<path fill="none" stroke="#800080" stroke-width="2.2" stroke-linejoin="round" stroke-linecap="round" d="M849.3 221.0C849.3 221.0 853.8 238.3 856.0 247.0C858.4 256.3 860.5 265.7 863.0 275.0C865.3 283.4 867.8 291.7 870.4 300.0C873.1 308.5 876.0 316.9 878.8 325.4C881.6 333.9 884.3 343.0 887.3 350.8C889.3 356.0 890.8 361.5 894.1 366.0C896.3 369.1 902.5 373.6 902.5 373.6C902.5 373.6 908.5 372.6 911.0 371.1C914.7 368.8 917.4 365.0 920.0 361.5C922.4 358.2 923.7 354.2 926.1 350.8C928.2 347.8 930.9 345.4 933.2 342.6C935.6 339.6 938.0 336.6 940.3 333.5C942.4 330.8 944.4 328.0 946.4 325.4C947.7 323.7 949.6 322.3 950.5 320.3C951.4 318.1 951.1 314.7 951.5 313.2C951.7 312.2 952.0 311.1 952.5 310.2C953.3 308.8 957.4 304.0 960.0 301.0C963.0 297.5 967.9 292.7 969.5 291.0C970.5 289.9 971.5 288.5 972.6 287.6C973.3 287.0 974.1 286.4 975.0 286.1C976.3 285.6 980.1 285.2 982.6 285.4C986.3 285.7 989.8 287.1 993.3 288.4C995.9 289.4 998.5 290.8 1000.9 292.2C1004.3 294.2 1009.1 297.1 1010.8 299.0C1011.9 300.3 1012.0 302.3 1013.1 303.6C1014.7 305.6 1018.1 307.8 1020.7 309.7C1024.7 312.5 1030.4 315.6 1035.0 318.8C1039.3 321.8 1043.4 325.0 1047.4 328.3C1050.5 330.9 1054.8 334.2 1056.5 336.6C1057.6 338.2 1057.6 340.4 1058.8 342.0C1059.8 343.3 1061.3 344.0 1062.6 345.0C1064.5 346.5 1068.0 348.8 1070.3 351.1C1072.6 353.3 1074.4 356.0 1076.4 358.5C1078.9 361.5 1081.5 364.5 1084.0 367.5C1086.9 371.1 1089.7 374.9 1092.6 378.5C1095.0 381.5 1097.4 384.6 1100.0 387.5C1101.9 389.6 1104.0 391.7 1106.2 393.5C1108.4 395.3 1110.6 397.0 1113.1 398.2C1116.3 399.8 1120.0 400.9 1123.3 401.5C1125.5 401.9 1127.8 401.8 1130.0 401.7C1132.4 401.6 1134.8 401.1 1137.2 400.7C1140.8 400.1 1146.0 399.0 1150.4 398.2C1155.5 397.3 1160.5 396.2 1165.6 395.6C1172.7 394.8 1179.9 393.6 1187.0 394.6C1193.0 395.4 1198.6 397.9 1204.2 400.2C1209.2 402.3 1213.9 404.9 1218.5 407.6C1225.4 411.7 1231.9 416.8 1238.8 421.1C1245.5 425.3 1252.2 429.4 1259.1 433.3C1265.8 437.1 1272.6 440.6 1279.4 444.1C1284.5 446.7 1289.7 449.3 1295.0 451.6C1299.0 453.4 1303.1 455.2 1307.3 456.5C1313.6 458.4 1325.5 460.9 1334.7 462.5C1343.7 464.1 1352.9 465.2 1362.0 466.0C1375.6 467.2 1389.3 467.4 1403.0 467.8C1423.5 468.3 1481.0 468.5 1481.0 468.5"/>
<path fill="none" stroke="#00009c" stroke-width="2.2" stroke-linejoin="round" stroke-linecap="round" d="M849.3 227.0C849.3 227.0 853.3 237.1 855.2 242.2C858.0 249.8 860.6 258.1 863.6 265.9C865.7 271.6 868.5 277.0 870.4 282.8C872.2 288.4 873.0 294.3 874.6 300.0C876.9 308.0 879.7 315.8 882.2 323.7C885.1 332.7 888.5 344.8 890.7 350.8C892.2 354.8 893.3 359.1 895.8 362.6C897.5 365.0 902.5 368.5 902.5 368.5C902.5 368.5 907.3 368.0 909.3 366.8C912.3 365.0 916.8 359.3 920.0 355.0C922.4 351.8 923.8 347.9 926.1 344.7C927.9 342.2 930.4 340.2 932.2 337.6C933.4 335.9 934.0 333.8 935.2 332.0C936.7 329.7 938.6 327.6 940.3 325.4C942.4 322.7 944.4 320.0 946.4 317.3C947.8 315.4 949.6 313.8 950.5 311.7C951.5 309.3 950.5 306.5 951.5 304.1C952.3 302.2 954.0 300.7 955.3 299.1C956.6 297.5 957.8 295.8 959.3 294.4C961.3 292.5 963.5 290.7 966.0 289.6C967.9 288.8 970.0 288.1 972.1 288.3C974.3 288.5 976.4 289.7 978.2 291.0C980.9 292.9 983.0 295.7 985.0 298.4C987.3 301.5 989.1 304.9 991.0 308.3C993.6 312.9 996.2 318.3 998.5 322.3C1000.0 325.0 1001.8 327.5 1003.2 330.3C1004.9 333.7 1006.0 337.7 1007.7 340.9C1008.8 343.0 1010.5 344.8 1011.5 347.0C1013.1 350.2 1013.8 354.3 1015.4 357.7C1016.7 360.5 1018.5 363.0 1020.0 365.6C1022.3 369.5 1024.9 374.3 1027.6 378.5C1030.0 382.2 1032.9 386.3 1035.2 389.2C1036.7 391.2 1038.4 393.0 1040.0 394.9C1042.4 397.7 1046.3 403.2 1050.2 406.6C1054.8 410.6 1060.0 413.9 1065.4 416.7C1070.2 419.1 1075.5 420.7 1080.6 422.3C1085.6 423.9 1090.9 425.5 1095.9 426.4C1099.2 427.0 1102.6 427.6 1106.0 427.4C1109.5 427.2 1112.9 426.3 1116.2 425.4C1120.9 424.1 1125.6 422.4 1130.0 420.3C1133.2 418.8 1136.1 416.7 1139.2 415.0C1142.9 412.9 1146.6 410.8 1150.4 408.8C1153.8 407.0 1157.2 405.4 1160.6 403.8C1164.9 401.8 1169.3 399.7 1173.8 398.2C1178.1 396.8 1182.5 395.6 1187.0 395.1C1190.0 394.8 1193.1 394.8 1196.1 395.1C1199.6 395.5 1203.0 396.1 1206.3 397.2C1210.6 398.6 1214.6 400.8 1218.5 402.9C1224.1 405.9 1229.5 409.5 1234.8 413.0C1240.8 416.9 1246.4 421.3 1252.4 425.2C1259.0 429.5 1265.8 433.5 1272.7 437.4C1280.0 441.6 1289.0 446.7 1295.0 449.5C1299.0 451.3 1303.1 452.8 1307.3 454.2C1313.6 456.2 1325.4 459.7 1334.7 461.7C1343.7 463.6 1352.8 464.9 1362.0 465.8C1375.6 467.2 1389.3 467.4 1403.0 467.8C1423.5 468.4 1481.0 468.5 1481.0 468.5"/>
</g>
<text x="288.5" y="110.5" font-size="26" font-family="Liberation Serif, serif" font-weight="bold">d</text>
<text x="340" y="149" font-size="26" font-family="Liberation Serif, serif" font-weight="bold">c</text>
<text x="388.5" y="174" font-size="26" font-family="Liberation Serif, serif" font-weight="bold">b</text>
<text x="340" y="228" font-size="26" font-family="Liberation Serif, serif" font-weight="bold">a</text>
<line x1="340.9" y1="116.4" x2="312.8" y2="108.6" stroke="#000" stroke-width="1.25"/><polygon fill="#000" points="303.7,106.0 315.8,105.5 313.8,112.7"/>
<line x1="352.0" y1="182.7" x2="375.9" y2="171.8" stroke="#000" stroke-width="1.25"/><polygon fill="#000" points="384.5,167.8 375.6,176.0 372.5,169.2"/>
<text x="1136.5" y="208.5" font-size="27" font-family="Liberation Serif, serif" font-weight="bold">a</text>
<text x="1140" y="330.5" font-size="27" font-family="Liberation Serif, serif" font-weight="bold">e</text>
<text x="1318" y="358" font-size="27" font-family="Liberation Serif, serif" font-weight="bold">e</text>
<text x="1319.8" y="436" font-size="27" font-family="Liberation Serif, serif" font-weight="bold">a</text>
<line x1="1123.2" y1="184.0" x2="1123.2" y2="327.2" stroke="#333" stroke-width="1.6"/><polygon fill="#000" points="1123.2,337.2 1119.7,325.2 1126.7,325.2"/>
<line x1="1304.6" y1="435.2" x2="1304.6" y2="351.3" stroke="#000" stroke-width="1.6"/><polygon fill="#000" points="1304.6,340.8 1307.8,353.3 1301.3,353.3"/>
</svg></body></html>
